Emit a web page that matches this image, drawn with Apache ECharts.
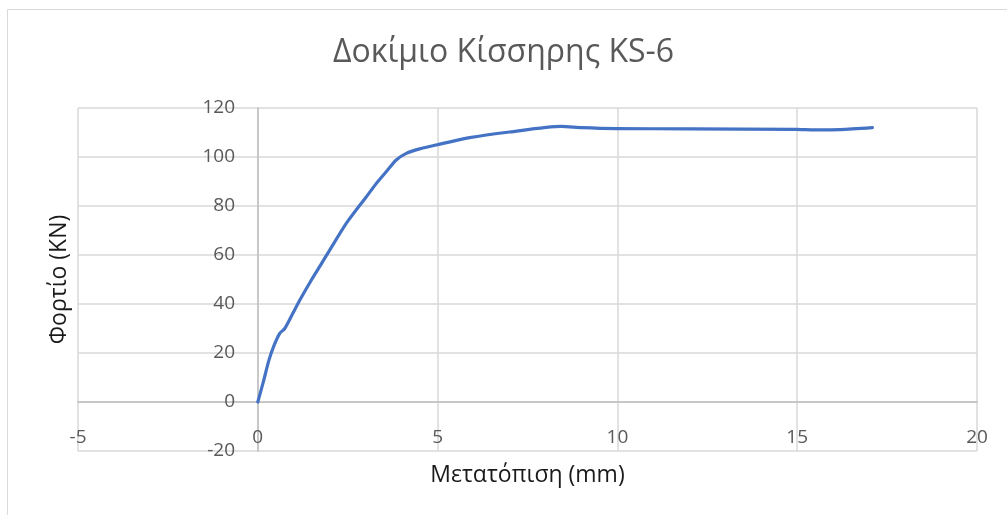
<!DOCTYPE html>
<html>
<head>
<meta charset="utf-8">
<script src="https://cdn.jsdelivr.net/npm/echarts@6/dist/echarts.min.js"></script>
<style>
  html, body { margin: 0; padding: 0; background: #fff; }
  #chart { width: 1007px; height: 515px; }
</style>
</head>
<body>
<div id="chart"></div>
<script>
// Load–displacement curve for pumice specimen KS-6
const displacement = [0, 0.15, 0.31, 0.45, 0.61, 0.75, 0.95, 1.17, 1.49, 1.75, 2.0, 2.46, 3.02, 3.30, 3.60, 3.85, 4.13, 4.50, 4.96, 5.89, 7.00, 8.44, 9.00, 9.97, 12.0, 14.97, 15.50, 16.20, 17.09];
const load =         [0, 8.0, 17.1, 23.0, 28.0, 30.0, 35.5, 41.6, 49.8, 56.0, 62.0, 72.9, 83.8, 89.3, 94.5, 98.8, 101.5, 103.3, 104.9, 107.9, 110.2, 112.5, 112.0, 111.6, 111.5, 111.3, 111.1, 111.2, 112.0];

const titleText = 'Δοκίμιο Κίσσηρης KS-6';
const xName = 'Μετατόπιση (mm)';
const yName = 'Φορτίο (KN)';
const xTicks = { min: -5, max: 20, step: 5 };
const yTicks = { min: -20, max: 120, step: 20 };

const points = displacement.map((d, i) => [d, load[i]]);
const font = '"Open Sans", "DejaVu Sans", sans-serif';

const chart = echarts.init(document.getElementById('chart'), null, { renderer: 'canvas' });
chart.setOption({
  animation: false,
  backgroundColor: '#ffffff',
  title: {
    text: titleText,
    left: 'center',
    top: 37,
    padding: 0,
    textStyle: { fontFamily: font, fontSize: 32, fontWeight: 'normal', color: '#595959' }
  },
  graphic: [{
    type: 'rect',
    shape: { x: 7.5, y: 9.5, width: 1020, height: 530 },
    style: { fill: 'none', stroke: '#d9d9d9', lineWidth: 1 },
    silent: true
  }],
  grid: { left: 78, right: 30, top: 108, bottom: 64, containLabel: false, outerBoundsMode: 'none' },
  xAxis: {
    type: 'value',
    min: xTicks.min, max: xTicks.max, interval: xTicks.step,
    name: xName,
    nameLocation: 'middle',
    nameGap: 13,
    nameTextStyle: { fontFamily: font, fontSize: 23, color: '#1a1a1a' },
    axisLine: { show: true, onZero: true, lineStyle: { color: '#bfbfbf', width: 1.5 } },
    axisTick: { show: false },
    axisLabel: { inside: true, margin: 4, fontFamily: font, fontSize: 19, color: '#595959' },
    splitLine: { show: true, lineStyle: { color: '#d9d9d9', width: 1.5 } }
  },
  yAxis: {
    type: 'value',
    min: yTicks.min, max: yTicks.max, interval: yTicks.step,
    name: yName,
    nameLocation: 'middle',
    nameGap: 7,
    nameTextStyle: { fontFamily: font, fontSize: 23, color: '#1a1a1a' },
    axisLine: { show: true, onZero: true, lineStyle: { color: '#bfbfbf', width: 1.5 } },
    axisTick: { show: false },
    axisLabel: { margin: -157, fontFamily: font, fontSize: 19, color: '#595959' },
    splitLine: { show: true, lineStyle: { color: '#d9d9d9', width: 1.5 } }
  },
  series: [{
    type: 'line',
    data: points,
    smooth: 0.25,
    showSymbol: false,
    lineStyle: { color: '#4472c4', width: 3.2, cap: 'round', join: 'round' },
    itemStyle: { color: '#4472c4' }
  }]
});
</script>
</body>
</html>
